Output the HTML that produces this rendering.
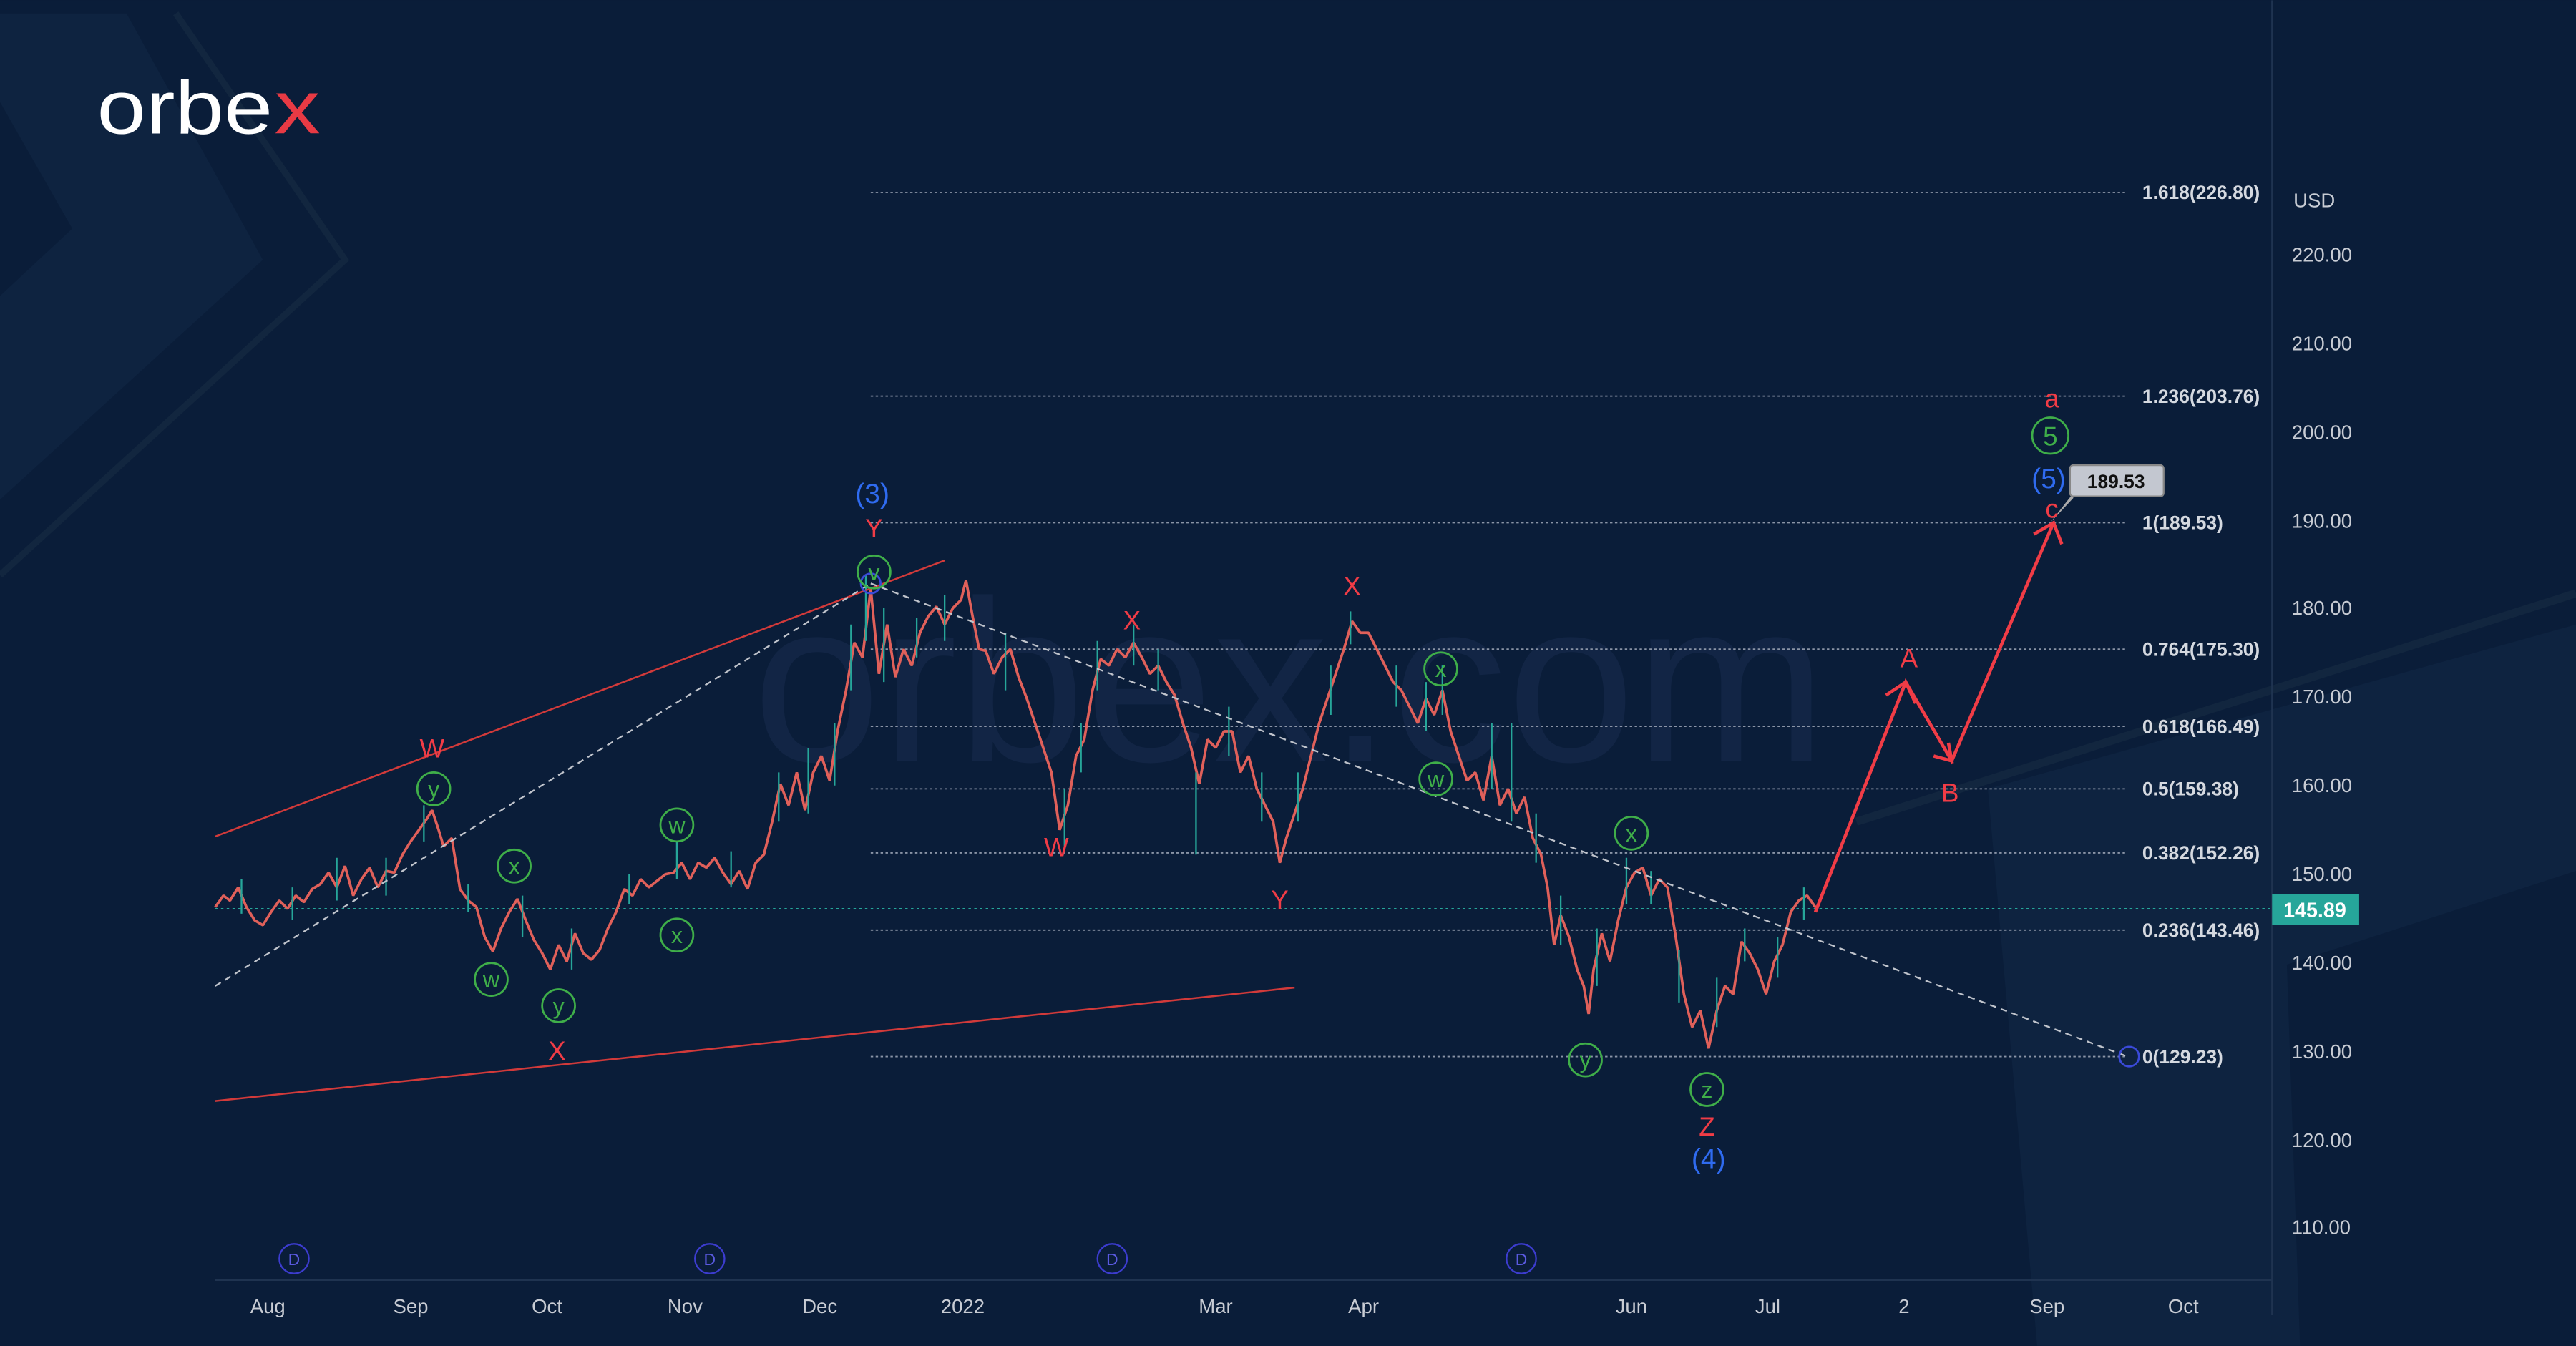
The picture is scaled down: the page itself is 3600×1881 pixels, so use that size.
<!DOCTYPE html>
<html><head><meta charset="utf-8"><style>
html,body{margin:0;padding:0;background:#0a1d39;overflow:hidden}
svg{display:block}
text{font-family:"Liberation Sans","DejaVu Sans",sans-serif}
</style></head><body>
<svg width="3600" height="1881" viewBox="0 0 1568 819" xmlns="http://www.w3.org/2000/svg">
<rect width="1568" height="819" fill="#0a1d39"/>
<polygon points="0,8 77,8 160,158 0,304" fill="#0e2340"/>
<polygon points="0,62 44,139 0,180" fill="#0a1d39"/>
<polyline points="107,8 210,158 0,350" fill="none" stroke="#12263f" stroke-width="4"/>
<polygon points="1210,480 1568,380 1568,530 1392,587 1400,819 1240,819" fill="#0e2340"/>
<polyline points="1130,500 1568,361" fill="none" stroke="#12263f" stroke-width="5"/>
<text x="785" y="463" font-size="140" fill="#15284a" text-anchor="middle" opacity="0.75">orbex.com</text>
<text x="59" y="81" font-size="46" fill="#ffffff" textLength="107" lengthAdjust="spacingAndGlyphs">orbe</text>
<text x="167" y="81" font-size="46" fill="#e83a44" textLength="28" lengthAdjust="spacingAndGlyphs">x</text>
<g stroke="#8a94a6" stroke-width="0.8" stroke-dasharray="1.5,1.5">
<line x1="530" y1="117" x2="1295" y2="117"/><line x1="530" y1="241" x2="1295" y2="241"/>
<line x1="530" y1="318" x2="1295" y2="318"/><line x1="530" y1="395" x2="1295" y2="395"/>
<line x1="530" y1="442" x2="1295" y2="442"/><line x1="530" y1="480" x2="1295" y2="480"/>
<line x1="530" y1="519" x2="1295" y2="519"/><line x1="530" y1="566" x2="1295" y2="566"/>
<line x1="530" y1="643" x2="1295" y2="643"/>
</g>
<line x1="131" y1="553" x2="1383" y2="553" stroke="#26a69a" stroke-width="0.8" stroke-dasharray="1.5,2"/>
<g font-size="11.5" fill="#d5d9e0" font-weight="bold">
<text x="1304" y="121">1.618(226.80)</text><text x="1304" y="245">1.236(203.76)</text>
<text x="1304" y="322">1(189.53)</text><text x="1304" y="399">0.764(175.30)</text>
<text x="1304" y="446">0.618(166.49)</text><text x="1304" y="484">0.5(159.38)</text>
<text x="1304" y="523">0.382(152.26)</text><text x="1304" y="570">0.236(143.46)</text>
<text x="1304" y="647">0(129.23)</text>
</g>
<line x1="1383" y1="0" x2="1383" y2="800" stroke="#1f3350" stroke-width="1"/>
<line x1="131" y1="779" x2="1383" y2="779" stroke="#1f3350" stroke-width="1"/>
<g font-size="12" fill="#c8ccd4">
<text x="1396" y="126">USD</text>
<text x="1395" y="159">220.00</text><text x="1395" y="213">210.00</text><text x="1395" y="267">200.00</text>
<text x="1395" y="321">190.00</text><text x="1395" y="374">180.00</text><text x="1395" y="428">170.00</text>
<text x="1395" y="482">160.00</text><text x="1395" y="536">150.00</text><text x="1395" y="590">140.00</text>
<text x="1395" y="644">130.00</text><text x="1395" y="698">120.00</text><text x="1395" y="751">110.00</text>
</g>
<rect x="1383" y="544" width="53" height="19" fill="#26a69a"/>
<text x="1409" y="558" font-size="12.5" font-weight="bold" fill="#fff" text-anchor="middle">145.89</text>
<g font-size="12" fill="#c8ccd4" text-anchor="middle">
<text x="163" y="799">Aug</text><text x="250" y="799">Sep</text><text x="333" y="799">Oct</text>
<text x="417" y="799">Nov</text><text x="499" y="799">Dec</text><text x="586" y="799">2022</text>
<text x="740" y="799">Mar</text><text x="830" y="799">Apr</text><text x="993" y="799">Jun</text>
<text x="1076" y="799">Jul</text><text x="1159" y="799">2</text><text x="1246" y="799">Sep</text><text x="1329" y="799">Oct</text>
</g>
<g fill="none" stroke="#3c3ccf" stroke-width="1">
<circle cx="179" cy="766" r="9"/><circle cx="432" cy="766" r="9"/><circle cx="677" cy="766" r="9"/><circle cx="926" cy="766" r="9"/>
</g>
<g font-size="10" fill="#5a5ae0" text-anchor="middle"><text x="179" y="770">D</text><text x="432" y="770">D</text><text x="677" y="770">D</text><text x="926" y="770">D</text></g>
<polyline fill="none" stroke="#e0605a" stroke-width="1.6" stroke-linejoin="bevel" points="131,552 136,545 140,548 145,540 150,552 155,560 160,563 165,555 170,548 175,553 180,545 185,549 190,541 195,538 200,531 205,540 210,527 215,545 220,535 225,528 230,540 235,530 240,531 245,520 250,512 255,505 260,498 263,493 267,505 270,515 275,510 280,541 285,548 290,552 295,570 300,579 305,565 310,555 315,547 320,560 325,572 330,580 335,590 340,575 345,585 350,568 355,580 360,584 365,578 370,565 375,555 380,541 385,545 390,535 395,540 400,536 405,532 410,531 415,525 420,535 425,525 430,528 435,522 440,531 445,538 450,530 455,541 460,525 465,520 470,500 475,477 480,490 485,470 490,493 495,470 500,460 505,475 510,444 515,420 520,391 525,400 530,358 535,410 540,380 545,412 550,395 555,405 560,385 565,375 570,369 575,380 580,370 585,365 588,353 592,375 596,395 600,396 605,410 610,400 615,395 620,412 625,425 630,440 635,455 640,470 645,505 650,490 655,460 660,450 665,420 670,401 675,405 680,395 685,400 690,391 695,400 700,410 705,405 710,415 715,423 720,440 725,455 730,477 735,450 740,455 745,445 750,445 755,470 760,460 765,480 770,490 775,500 779,525 783,510 788,495 793,480 798,460 803,440 808,425 813,410 818,395 823,378 828,385 833,385 838,395 843,405 848,415 853,420 858,430 863,440 868,425 873,435 878,420 883,445 888,460 893,475 898,470 903,487 908,460 913,490 918,480 923,495 928,485 933,510 938,520 942,540 946,575 950,557 955,570 960,590 964,600 967,617 970,590 975,568 980,585 985,560 990,540 995,531 1000,528 1005,545 1010,535 1015,540 1020,570 1025,605 1030,625 1035,615 1040,638 1045,615 1050,600 1055,605 1060,573 1065,580 1070,590 1075,605 1080,585 1085,575 1090,555 1095,548 1100,545 1105,552"/>
<path fill="none" stroke="#26a69a" stroke-width="1" d="M147,535V556M178,540V560M205,522V548M235,522V545M258,490V512M285,538V555M318,545V570M348,565V590M383,532V550M412,512V535M445,518V540M474,470V500M492,455V495M508,440V478M518,380V420M527,350V390M538,370V415M558,376V400M575,362V390M612,385V420M648,480V515M658,440V470M668,390V420M690,380V405M705,395V420M728,470V520M748,430V460M768,470V500M790,470V500M810,405V435M822,372V392M850,405V430M868,415V445M878,405V435M908,440V480M920,440V500M935,495V525M950,545V575M972,565V600M990,522V550M1005,530V550M1022,578V610M1045,595V625M1062,565V585M1082,570V595M1098,540V560"/>
<g stroke="#d23a3a" stroke-width="1.1"><line x1="131" y1="509" x2="575" y2="341"/><line x1="131" y1="670" x2="788" y2="601"/></g>
<g stroke="#c0c4cc" stroke-width="1" stroke-dasharray="4,3"><line x1="131" y1="600" x2="530" y2="355"/><line x1="530" y1="355" x2="1295" y2="643"/></g>
<circle cx="530" cy="355" r="6" fill="none" stroke="#3a4ad8" stroke-width="1.2"/>
<circle cx="1296" cy="643" r="6" fill="none" stroke="#3a4ad8" stroke-width="1.2"/>
<g stroke="#f03c46" stroke-width="2" fill="none">
<polyline points="1105,555 1160,415 1188,463 1250,318"/>
<polyline points="1148,423 1160,415 1166,428"/><polyline points="1177,460 1188,463 1186,452"/><polyline points="1238,325 1250,318 1255,331"/>
</g>
<polygon points="1248,318 1262,303 1262,300" fill="#aaa"/>
<rect x="1260" y="283" width="57" height="19" rx="2" fill="#c3c7d0" stroke="#888"/>
<text x="1288" y="297" font-size="11.5" font-weight="bold" fill="#111" text-anchor="middle">189.53</text>
<g font-size="16" fill="#f03c46" text-anchor="middle">
<text x="263" y="461">W</text><text x="339" y="645">X</text><text x="532" y="327">Y</text>
<text x="689" y="383">X</text><text x="643" y="521">W</text><text x="823" y="362">X</text><text x="779" y="553">Y</text>
<text x="1039" y="691">Z</text><text x="1162" y="406">A</text><text x="1187" y="488">B</text>
<text x="1249" y="248">a</text><text x="1249" y="315">c</text>
</g>
<g font-size="17" fill="#2f6bf0" text-anchor="middle">
<text x="531" y="306">(3)</text><text x="1040" y="711">(4)</text><text x="1247" y="297">(5)</text>
</g>
<g fill="none" stroke="#3fae49" stroke-width="1.2">
<circle cx="264" cy="480" r="10"/><circle cx="313" cy="527" r="10"/><circle cx="299" cy="596" r="10"/><circle cx="340" cy="612" r="10"/>
<circle cx="412" cy="502" r="10"/><circle cx="412" cy="569" r="10"/><circle cx="532" cy="348" r="10"/>
<circle cx="877" cy="407" r="10"/><circle cx="874" cy="474" r="10"/><circle cx="993" cy="507" r="10"/>
<circle cx="965" cy="645" r="10"/><circle cx="1039" cy="663" r="10"/><circle cx="1248" cy="265" r="11"/>
</g>
<g font-size="14" fill="#3fae49" text-anchor="middle">
<text x="264" y="485">y</text><text x="313" y="532">x</text><text x="299" y="601">w</text><text x="340" y="617">y</text>
<text x="412" y="507">w</text><text x="412" y="574">x</text><text x="532" y="353">v</text>
<text x="877" y="412">x</text><text x="874" y="479">w</text><text x="993" y="512">x</text>
<text x="965" y="650">y</text><text x="1039" y="668">z</text><text x="1248" y="271" font-size="16">5</text>
</g>
</svg>
</body></html>
